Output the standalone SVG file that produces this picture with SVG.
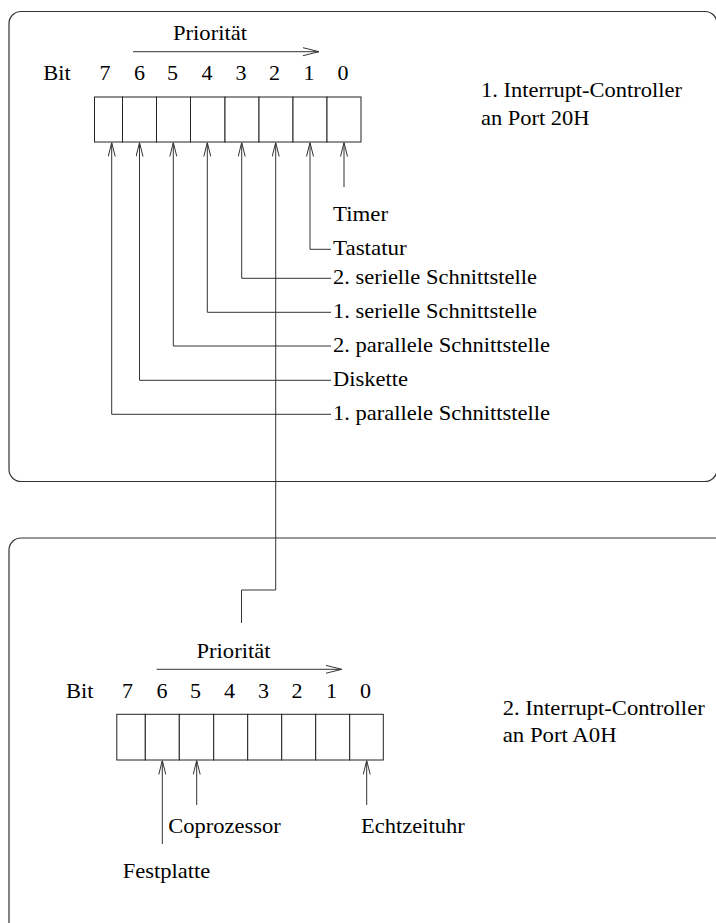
<svg xmlns="http://www.w3.org/2000/svg" width="716" height="923" viewBox="0 0 716 923">
  <style>
    .frame { fill: none; stroke: #333; stroke-width: 1.2; }
    .cell { fill: #fff; stroke: #222; stroke-width: 1; }
    .wire { fill: none; stroke: #333; stroke-width: 1; }
    text { font-family: "Liberation Serif", "Times New Roman", serif; font-size: 21px; fill: #000; }
    .d { text-anchor: middle; }
  </style>
  <defs>
    <marker id="tip" viewBox="0 0 16 10" refX="16" refY="5" markerWidth="16" markerHeight="10" markerUnits="userSpaceOnUse" orient="auto">
      <path d="M0,1 L16,5 L0,9" fill="none" stroke="#333" stroke-width="1"/>
    </marker>
    <marker id="up" viewBox="0 0 14 8" refX="14" refY="4" markerWidth="14" markerHeight="8" markerUnits="userSpaceOnUse" orient="auto">
      <path d="M0,0.5 L14,4 L0,7.5" fill="none" stroke="#333" stroke-width="1"/>
    </marker>
  </defs>

  <rect width="716" height="923" fill="#fff"/>

  <!-- first interrupt controller (port 20H) -->
  <g id="pic1">
    <rect class="frame" x="9" y="11.5" width="708" height="470" rx="12"/>
    <text x="173" y="40" textLength="74" lengthAdjust="spacingAndGlyphs">Priorität</text>
    <text x="43.3" y="80" textLength="27.5" lengthAdjust="spacingAndGlyphs">Bit</text>
    <g class="d">
      <text x="105" y="80" textLength="11" lengthAdjust="spacingAndGlyphs">7</text>
      <text x="139.5" y="80" textLength="11" lengthAdjust="spacingAndGlyphs">6</text>
      <text x="172.5" y="80" textLength="11" lengthAdjust="spacingAndGlyphs">5</text>
      <text x="207" y="80" textLength="11" lengthAdjust="spacingAndGlyphs">4</text>
      <text x="241" y="80" textLength="11" lengthAdjust="spacingAndGlyphs">3</text>
      <text x="274.5" y="80" textLength="11" lengthAdjust="spacingAndGlyphs">2</text>
      <text x="309" y="80" textLength="11" lengthAdjust="spacingAndGlyphs">1</text>
      <text x="343" y="80" textLength="11" lengthAdjust="spacingAndGlyphs">0</text>
    </g>
    <g id="reg1">
      <rect class="cell" x="94.5" y="97" width="28" height="45"/>
      <rect class="cell" x="122.5" y="97" width="34" height="45"/>
      <rect class="cell" x="156.5" y="97" width="34" height="45"/>
      <rect class="cell" x="190.5" y="97" width="34.5" height="45"/>
      <rect class="cell" x="225" y="97" width="34" height="45"/>
      <rect class="cell" x="259" y="97" width="34" height="45"/>
      <rect class="cell" x="293" y="97" width="34" height="45"/>
      <rect class="cell" x="327" y="97" width="34" height="45"/>
    </g>
    <text x="481" y="96.7" textLength="201" lengthAdjust="spacingAndGlyphs">1. Interrupt-Controller</text>
    <text x="481" y="125" textLength="108.5" lengthAdjust="spacingAndGlyphs">an Port 20H</text>
  </g>

  <!-- second interrupt controller (port A0H) -->
  <g id="pic2">
    <rect class="frame" x="9" y="538" width="730" height="420" rx="12"/>
    <text x="196.5" y="658" textLength="74" lengthAdjust="spacingAndGlyphs">Priorität</text>
    <text x="66" y="698.3" textLength="27.5" lengthAdjust="spacingAndGlyphs">Bit</text>
    <g class="d">
      <text x="127.4" y="698.3" textLength="11" lengthAdjust="spacingAndGlyphs">7</text>
      <text x="161.9" y="698.3" textLength="11" lengthAdjust="spacingAndGlyphs">6</text>
      <text x="195.4" y="698.3" textLength="11" lengthAdjust="spacingAndGlyphs">5</text>
      <text x="229.4" y="698.3" textLength="11" lengthAdjust="spacingAndGlyphs">4</text>
      <text x="263.4" y="698.3" textLength="11" lengthAdjust="spacingAndGlyphs">3</text>
      <text x="296.9" y="698.3" textLength="11" lengthAdjust="spacingAndGlyphs">2</text>
      <text x="331.4" y="698.3" textLength="11" lengthAdjust="spacingAndGlyphs">1</text>
      <text x="365.4" y="698.3" textLength="11" lengthAdjust="spacingAndGlyphs">0</text>
    </g>
    <g id="reg2">
      <rect class="cell" x="116.8" y="714.3" width="28.5" height="45.7"/>
      <rect class="cell" x="145.3" y="714.3" width="34" height="45.7"/>
      <rect class="cell" x="179.3" y="714.3" width="34.4" height="45.7"/>
      <rect class="cell" x="213.7" y="714.3" width="34" height="45.7"/>
      <rect class="cell" x="247.7" y="714.3" width="34" height="45.7"/>
      <rect class="cell" x="281.7" y="714.3" width="34" height="45.7"/>
      <rect class="cell" x="315.7" y="714.3" width="34" height="45.7"/>
      <rect class="cell" x="349.7" y="714.3" width="33.6" height="45.7"/>
    </g>
    <text x="502.7" y="715" textLength="202" lengthAdjust="spacingAndGlyphs">2. Interrupt-Controller</text>
    <text x="502.7" y="741.7" textLength="114" lengthAdjust="spacingAndGlyphs">an Port A0H</text>
  </g>

  <!-- interrupt sources -->
  <g id="sources">
    <text x="333" y="221" textLength="55" lengthAdjust="spacingAndGlyphs">Timer</text>
    <text x="333" y="255" textLength="73.7" lengthAdjust="spacingAndGlyphs">Tastatur</text>
    <text x="333" y="284.3" textLength="204" lengthAdjust="spacingAndGlyphs">2. serielle Schnittstelle</text>
    <text x="333" y="318.3" textLength="204" lengthAdjust="spacingAndGlyphs">1. serielle Schnittstelle</text>
    <text x="333" y="352" textLength="217" lengthAdjust="spacingAndGlyphs">2. parallele Schnittstelle</text>
    <text x="333" y="386.3" textLength="75" lengthAdjust="spacingAndGlyphs">Diskette</text>
    <text x="333" y="420.3" textLength="217" lengthAdjust="spacingAndGlyphs">1. parallele Schnittstelle</text>
    <text x="168.3" y="833" textLength="112.5" lengthAdjust="spacingAndGlyphs">Coprozessor</text>
    <text x="361" y="833" textLength="103.7" lengthAdjust="spacingAndGlyphs">Echtzeituhr</text>
    <text x="122.7" y="878" textLength="87.5" lengthAdjust="spacingAndGlyphs">Festplatte</text>
  </g>

  <!-- connectors -->
  <g id="connectors">
    <path class="wire" d="M133,51.7 H319" marker-end="url(#tip)"/>
    <path class="wire" d="M156.7,669.3 H341.7" marker-end="url(#tip)"/>

    <path class="wire" d="M344,187 V142.5" marker-end="url(#up)"/>
    <path class="wire" d="M331,249.3 H310 V142.5" marker-end="url(#up)"/>
    <path class="wire" d="M241.5,623 V590 H275.7 V142.5" marker-end="url(#up)"/>
    <path class="wire" d="M331,278.3 H241.7 V142.5" marker-end="url(#up)"/>
    <path class="wire" d="M331,312.3 H207.3 V142.5" marker-end="url(#up)"/>
    <path class="wire" d="M331,346 H173.3 V142.5" marker-end="url(#up)"/>
    <path class="wire" d="M331,380.3 H139.5 V142.5" marker-end="url(#up)"/>
    <path class="wire" d="M331,414.3 H111.7 V142.5" marker-end="url(#up)"/>

    <path class="wire" d="M162.3,844 V760.5" marker-end="url(#up)"/>
    <path class="wire" d="M196.7,805 V760.5" marker-end="url(#up)"/>
    <path class="wire" d="M366.7,805 V760.5" marker-end="url(#up)"/>
  </g>
</svg>
